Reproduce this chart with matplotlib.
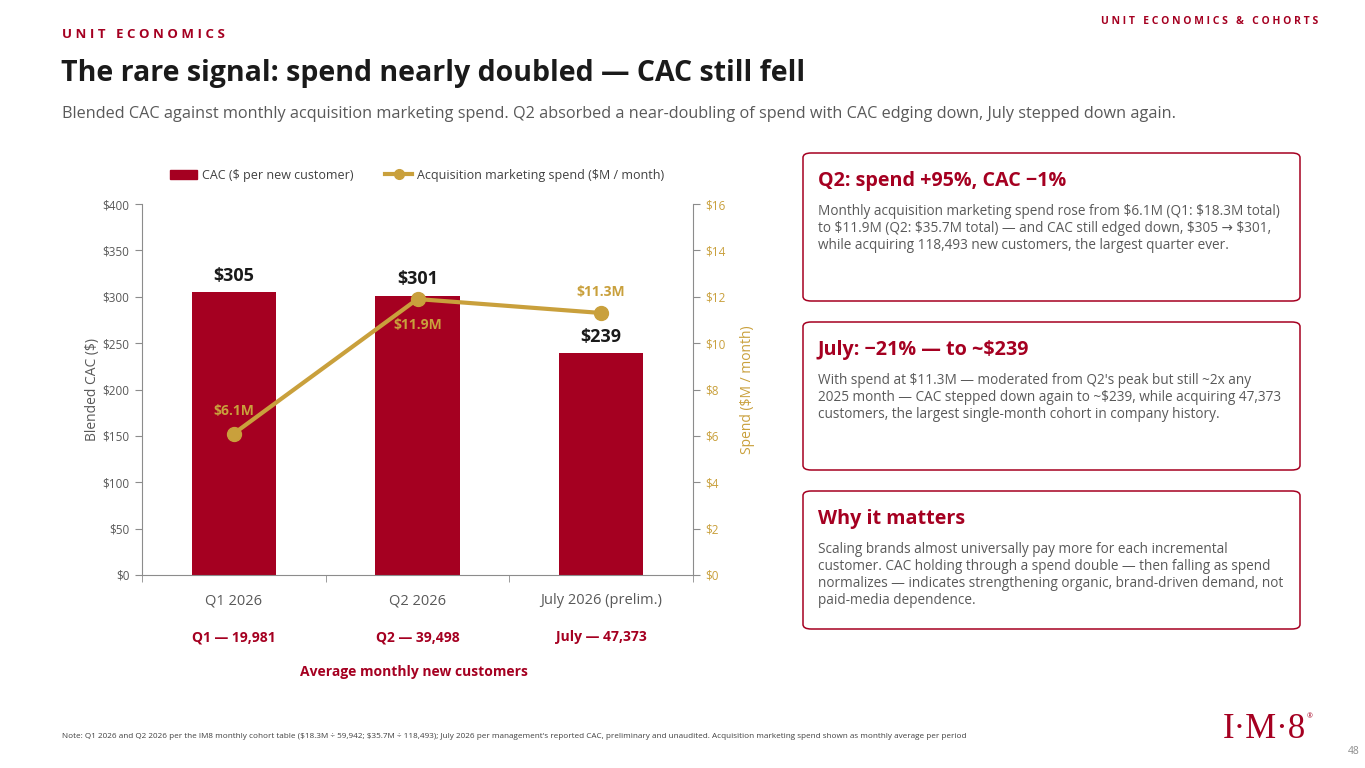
import numpy as np
import matplotlib.pyplot as plt
from matplotlib.patches import FancyBboxPatch
from matplotlib.lines import Line2D
from matplotlib.patches import Patch

# datos
periodos = ['Q1 2026', 'Q2 2026', 'July 2026 (prelim.)']
cac = [305, 301, 239]
gasto = [6.1, 11.9, 11.3]
clientes = ['Q1 — 19,981', 'Q2 — 39,498', 'July — 47,373']
etiquetas_gasto = ['$6.1M', '$11.9M', '$11.3M']

ROJO = '#A50021'
ORO = '#C9A03C'
GRIS = '#595959'

plt.rcParams['font.family'] = ['Open Sans', 'DejaVu Sans']
plt.rcParams['text.parse_math'] = False

fig = plt.figure(figsize=(13.65, 7.68), dpi=100)
W, H = 1365, 768

def fx(px):
    return px / W

def fy(py):
    return 1 - py / H

# encabezado
fig.text(fx(62), fy(35), 'U N I T   E C O N O M I C S', color=ROJO, fontsize=9.5,
         fontweight='bold', va='center')
fig.text(fx(1318), fy(22), 'U N I T   E C O N O M I C S   &   C O H O R T S', color=ROJO,
         fontsize=7.5, fontweight='bold', va='center', ha='right')
fig.text(fx(61), fy(73), 'The rare signal: spend nearly doubled — CAC still fell',
         color='#1a1a1a', fontsize=20.5, fontweight='bold', va='center')
fig.text(fx(62), fy(114), 'Blended CAC against monthly acquisition marketing spend. Q2 absorbed a '
         'near-doubling of spend with CAC edging down, July stepped down again.',
         color=GRIS, fontsize=11.7, va='center')

# grafico
ax = fig.add_axes([fx(142), fy(575), fx(693) - fx(142), fy(204) - fy(575)])
x = np.arange(len(periodos))
ax.bar(x, cac, width=0.46, color=ROJO, zorder=2)
ax.set_xlim(-0.5, 2.5)
ax.set_ylim(0, 400)
ax.set_yticks(range(0, 401, 50))
ax.set_yticklabels([f'${v}' for v in range(0, 401, 50)])
ax.set_xticks(x)
ax.set_xticklabels(periodos)
ax.set_xticks([-0.5, 0.5, 1.5, 2.5], minor=True)
ax.tick_params(axis='x', which='major', length=0, pad=13, labelsize=10.5, labelcolor=GRIS)
ax.tick_params(axis='x', which='minor', length=5, color='#8c8c8c')
ax.tick_params(axis='y', length=5, color='#8c8c8c', labelsize=8.5, labelcolor=GRIS, pad=4)
for s in ['top', 'right']:
    ax.spines[s].set_visible(False)
for s in ['left', 'bottom']:
    ax.spines[s].set_color('#8c8c8c')
ax.set_ylabel('Blended CAC ($)', color=GRIS, fontsize=10, labelpad=2)

for i, v in enumerate(cac):
    ax.text(i, v + 8, f'${v}', ha='center', va='bottom', fontsize=13,
            fontweight='bold', color='#1a1a1a')

ax2 = ax.twinx()
ax2.plot(x, gasto, color=ORO, lw=3, marker='o', ms=10, zorder=3)
ax2.set_ylim(0, 16)
ax2.set_yticks(range(0, 17, 2))
ax2.set_yticklabels([f'${v}' for v in range(0, 17, 2)])
ax2.tick_params(axis='y', length=5, color='#8c8c8c', labelsize=8.5, labelcolor=ORO, pad=4)
for s in ['top', 'left', 'bottom']:
    ax2.spines[s].set_visible(False)
ax2.spines['right'].set_color('#8c8c8c')
ax2.set_ylabel('Spend ($M / month)', color=ORO, fontsize=10, labelpad=10)

desplaz = [(0, 16), (0, -19), (0, 15)]
for i, v in enumerate(gasto):
    ax2.annotate(etiquetas_gasto[i], (i, v), xytext=desplaz[i], textcoords='offset points',
                 ha='center', va='center', fontsize=10, fontweight='bold', color=ORO)

leyenda = [Patch(color=ROJO, label='CAC ($ per new customer)'),
           Line2D([0], [0], color=ORO, lw=3, marker='o', ms=7,
                  label='Acquisition marketing spend ($M / month)')]
fig.legend(handles=leyenda, loc='center', bbox_to_anchor=(fx(417), fy(175)), ncol=2,
           frameon=False, fontsize=9, labelcolor='#404040', handlelength=2.2,
           columnspacing=2.5, handletextpad=0.4)

# clientes mensuales
for i, t in enumerate(clientes):
    xd = ax.transData.transform((i, 0))[0] / W
    fig.text(xd, fy(637), t, ha='center', va='center', fontsize=10,
             fontweight='bold', color=ROJO)
fig.text(fx(414), fy(672), 'Average monthly new customers', ha='center', va='center',
         fontsize=10, fontweight='bold', color=ROJO)

# cajas laterales
cajas = [
    (153, 301, 'Q2: spend +95%, CAC −1%',
     ['Monthly acquisition marketing spend rose from $6.1M (Q1: $18.3M total)',
      'to $11.9M (Q2: $35.7M total) — and CAC still edged down, $305 → $301,',
      'while acquiring 118,493 new customers, the largest quarter ever.']),
    (322, 470, 'July: −21% — to ~$239',
     ['With spend at $11.3M — moderated from Q2\'s peak but still ~2x any',
      '2025 month — CAC stepped down again to ~$239, while acquiring 47,373',
      'customers, the largest single-month cohort in company history.']),
    (491, 629, 'Why it matters',
     ['Scaling brands almost universally pay more for each incremental',
      'customer. CAC holding through a spend double — then falling as spend',
      'normalizes — indicates strengthening organic, brand-driven demand, not',
      'paid-media dependence.']),
]
for y0, y1, titulo, lineas in cajas:
    caja = FancyBboxPatch((fx(803), fy(y1)), fx(1300) - fx(803), fy(y0) - fy(y1),
                          boxstyle='round,pad=0,rounding_size=0.006',
                          transform=fig.transFigure, facecolor='white',
                          edgecolor=ROJO, lw=1.1)
    fig.patches.append(caja)
    fig.text(fx(818), fy(y0 + 28), titulo, color=ROJO, fontsize=14.2,
             fontweight='bold', va='center')
    for k, l in enumerate(lineas):
        fig.text(fx(818), fy(y0 + 62 + 17 * k), l, color=GRIS, fontsize=9.85, va='baseline')

# pie
fig.text(fx(62), fy(737), 'Note: Q1 2026 and Q2 2026 per the IM8 monthly cohort table '
         '($18.3M ÷ 59,942; $35.7M ÷ 118,493); July 2026 per management\'s reported CAC, '
         'preliminary and unaudited. Acquisition marketing spend shown as monthly average per period',
         color='#404040', fontsize=5.9, va='center')
fig.text(fx(1306), fy(730), 'I·M·8', color=ROJO, fontsize=25, va='center', ha='right',
         family=['Liberation Serif'])
fig.text(fx(1307), fy(717), '®', color=ROJO, fontsize=5, va='center', ha='left')
fig.text(fx(1360), fy(751), '48', color='#8c8c8c', fontsize=7.5, va='center', ha='right')

fig.savefig('out.png', dpi=100)
